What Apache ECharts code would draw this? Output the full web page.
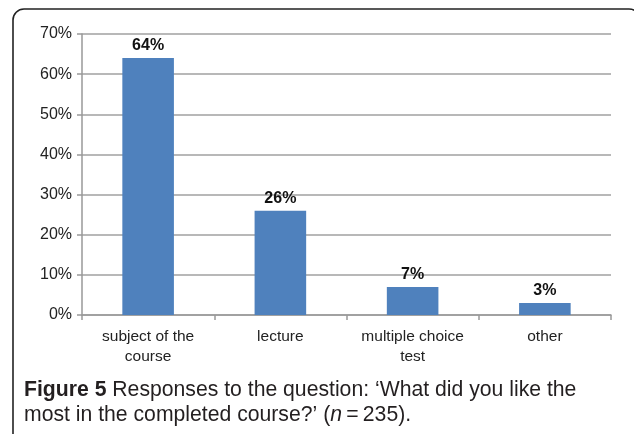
<!DOCTYPE html>
<html><head><meta charset="utf-8">
<script src="https://cdn.jsdelivr.net/npm/echarts@6/dist/echarts.min.js"></script>
<style>html,body{margin:0;padding:0;background:#fff}#c{width:634px;height:434px}</style>
</head><body><div id="c"></div>
<script>
var categories = ['subject of the\ncourse', 'lecture', 'multiple choice\ntest', 'other'];
var values = [64, 26, 7, 3];
var yTicks = [0, 10, 20, 30, 40, 50, 60, 70];

var FONT = 'Liberation Sans';
var chart = echarts.init(document.getElementById('c'), null, {renderer: 'canvas'});
chart.setOption({
  animation: false,
  backgroundColor: '#fff',
  grid: {left: 82, right: 23, top: 34, bottom: 119, containLabel: false},
  xAxis: {
    type: 'category', data: categories,
    axisLine: {show: true, lineStyle: {color: '#999', width: 1.5}},
    axisTick: {show: true, interval: 0, length: 5, lineStyle: {color: '#999', width: 1.5}},
    axisLabel: {interval: 0, hideOverlap: false, color: '#222', fontSize: 15.5, fontFamily: FONT, margin: 12, lineHeight: 20}
  },
  yAxis: {
    type: 'value', min: yTicks[0], max: yTicks[yTicks.length - 1], interval: 10,
    axisLine: {show: true, lineStyle: {color: '#999', width: 1.5}},
    axisTick: {show: true, length: 5, lineStyle: {color: '#999', width: 1.5}},
    axisLabel: {color: '#222', fontSize: 16, fontFamily: FONT, margin: 10, formatter: '{value}%'},
    splitLine: {show: true, lineStyle: {color: '#a0a0a0', width: 1.5}}
  },
  series: [{
    type: 'bar', data: values, barWidth: '39%',
    itemStyle: {color: '#4F81BD'},
    label: {show: true, position: 'top', formatter: '{c}%', color: '#111', fontWeight: 'bold', fontSize: 16, fontFamily: FONT, distance: 4}
  }],
  graphic: [
    {type: 'rect', shape: {x: 13, y: 9, width: 627, height: 460, r: 11}, style: {fill: 'none', stroke: '#222', lineWidth: 1.6}, z: -1},
    {type: 'text', left: 24, top: 378, style: {
      text: '{b|Figure 5} Responses to the question: \u2018What did you like the\nmost in the completed course?\u2019 ({i|n}\u2009=\u2009235).',
      fontSize: 21.2, fontFamily: FONT, fill: '#231f20', lineHeight: 25,
      rich: {
        b: {fontSize: 21.2, fontWeight: 'bold', fontFamily: FONT, fill: '#231f20'},
        i: {fontSize: 21.2, fontStyle: 'italic', fontFamily: FONT, fill: '#231f20'}
      }
    }}
  ]
});
</script></body></html>
